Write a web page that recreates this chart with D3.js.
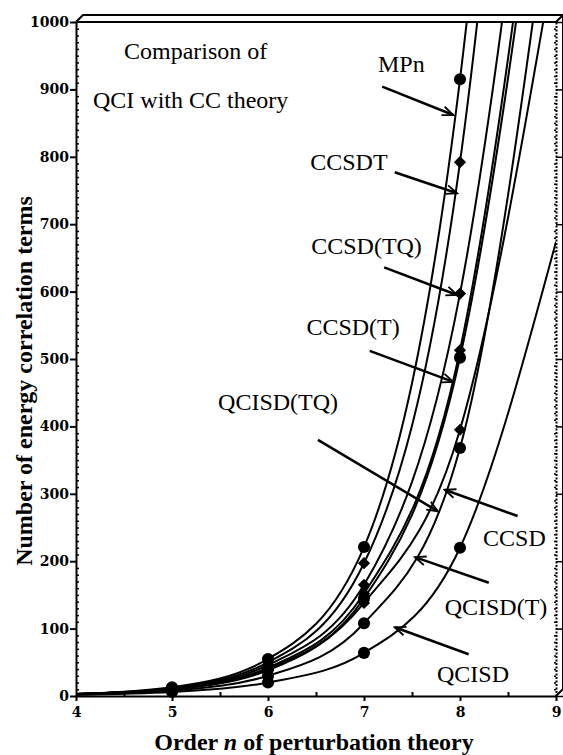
<!DOCTYPE html>
<html>
<head>
<meta charset="utf-8">
<script src="https://cdn.jsdelivr.net/npm/d3@7"></script>
<style>
body { margin: 0; background: #fff; }
svg text { fill: #000; }
</style>
</head>
<body>
<svg id="chart"></svg>
<script>
// order n of perturbation theory (n = 9 values estimated from where the curves leave the frame)
const orders = [4, 5, 6, 7, 8, 9];
const markerOrders = [5, 6, 7, 8];

const mpnTerms = [3, 13, 55, 221, 915, 2550];
const ccsdtTerms = [3, 12, 50, 197, 792, 2280];
const ccsdTQTerms = [3, 11, 46, 165, 597, 1655];
const ccsdTTerms = [3, 10, 42, 152, 513, 1495];
const ccsdTerms = [3, 10, 40, 145, 502, 1440];
const qcisdTQTerms = [3, 10, 38, 138, 395, 1110];
const qcisdTTerms = [2, 8, 30, 108, 368, 1255];
const qcisdTerms = [2, 6, 20, 64, 220, 674];

const seriesNames = ["MPn", "CCSDT", "CCSD(TQ)", "CCSD(T)", "CCSD", "QCISD(TQ)", "QCISD(T)", "QCISD"];
const seriesValues = [mpnTerms, ccsdtTerms, ccsdTQTerms, ccsdTTerms, ccsdTerms, qcisdTQTerms, qcisdTTerms, qcisdTerms];
const seriesSymbols = ["circle", "diamond", "diamond", "diamond", "circle", "diamond", "circle", "circle"];

const xTicks = [4, 5, 6, 7, 8, 9];
const xMinorTicks = [4.5, 5.5, 6.5, 7.5, 8.5];
const yTicks = d3.range(0, 1001, 100);
const yMinorTicks = d3.range(0, 1001, 10).filter(v => v % 100 !== 0);

// label text, anchor [n, terms]; arrow from [n, terms] to [n, terms]
const labelTexts = ["MPn", "CCSDT", "CCSD(TQ)", "CCSD(T)", "QCISD(TQ)", "CCSD", "QCISD(T)", "QCISD"];
const labelAnchors = [[7.146, 926], [6.44, 780], [6.45, 656], [6.40, 536], [5.48, 425], [8.24, 223], [7.84, 120], [7.76, 21]];
const arrowStarts = [[7.19, 904], [7.32, 777], [7.21, 636], [7.06, 512], [6.52, 380], [8.60, 267], [8.30, 168], [8.09, 62]];
const arrowEnds = [[7.93, 862], [7.97, 746], [7.97, 595], [7.93, 466], [7.77, 274], [7.84, 306], [7.53, 206], [7.32, 102]];

const titleLines = ["Comparison of", "QCI with CC theory"];
const titleAnchors = [[4.5, 945], [4.177, 872]];

const config = {
    width: 563,
    height: 755,
    margin: { top: 22, right: 7, bottom: 59, left: 76 },
    depth: 7
};
const serif = "'Liberation Serif', 'Times New Roman', serif";
const tickFont = "'DejaVu Serif', serif";

function renderChart() {
    const innerWidth = config.width - config.margin.left - config.margin.right;
    const innerHeight = config.height - config.margin.top - config.margin.bottom;

    const svg = d3.select("#chart")
        .attr("width", config.width)
        .attr("height", config.height);

    const x = d3.scaleLinear().domain([4, 9]).range([config.margin.left, config.margin.left + innerWidth]);
    const y = d3.scaleLinear().domain([0, 1000]).range([config.margin.top + innerHeight, config.margin.top]);

    const defs = svg.append("defs");
    defs.append("clipPath")
        .attr("id", "plot-clip")
        .append("rect")
        .attr("x", x(4))
        .attr("y", y(1000))
        .attr("width", x(9) - x(4))
        .attr("height", y(0) - y(1000));
    defs.append("marker")
        .attr("id", "arrowhead")
        .attr("viewBox", "-12 -6 14 12")
        .attr("refX", 0)
        .attr("refY", 0)
        .attr("orient", "auto")
        .attr("markerUnits", "userSpaceOnUse")
        .attr("markerWidth", 14)
        .attr("markerHeight", 12)
        .append("path")
        .attr("d", "M -11,-4.5 L 0,0 L -11,4.5")
        .attr("fill", "none")
        .attr("stroke", "#000")
        .attr("stroke-width", 1.8);

    // curves
    const line = d3.line()
        .x((d, i) => x(orders[i]))
        .y(d => y(d))
        .curve(d3.curveMonotoneX);

    const plot = svg.append("g").attr("clip-path", "url(#plot-clip)");
    plot.selectAll(".curve")
        .data(seriesValues)
        .join("path")
        .attr("class", "curve")
        .attr("d", line)
        .attr("fill", "none")
        .attr("stroke", "#000")
        .attr("stroke-width", 2);

    // markers at n = 5..8
    const markerData = [];
    seriesValues.forEach((vals, s) => {
        markerOrders.forEach(n => {
            markerData.push({ n: n, v: vals[orders.indexOf(n)], symbol: seriesSymbols[s] });
        });
    });
    const circleSym = d3.symbol().type(d3.symbolCircle).size(115);
    const diamondSym = d3.symbol().type(d3.symbolDiamond2).size(95);
    svg.append("g")
        .selectAll("path")
        .data(markerData)
        .join("path")
        .attr("transform", d => `translate(${x(d.n)},${y(d.v)})`)
        .attr("d", d => d.symbol === "circle" ? circleSym() : diamondSym())
        .attr("fill", "#000");

    // frame (3D box look)
    const dp = config.depth;
    const frame = svg.append("g")
        .attr("fill", "none")
        .attr("stroke", "#000")
        .attr("stroke-width", 2);
    frame.append("path")
        .attr("d", `M ${x(4)},${y(1000)} L ${x(4) + dp},${y(1000) - dp} L ${x(9) + dp},${y(1000) - dp} L ${x(9) + dp},${y(0) - dp} L ${x(9)},${y(0)}`);
    frame.append("path")
        .attr("d", `M ${x(4)},${y(1000)} L ${x(9)},${y(1000)} L ${x(9) + dp},${y(1000) - dp}`);

    // axes
    const left = svg.append("g")
        .attr("transform", `translate(${x(4)},0)`)
        .call(d3.axisLeft(y).tickValues(yTicks).tickSize(6).tickSizeOuter(0).tickPadding(1).tickFormat(d3.format("d")));
    left.select(".domain").attr("stroke-width", 2);
    left.selectAll(".tick line").attr("stroke-width", 2);
    left.selectAll(".tick text")
        .style("font-family", tickFont)
        .style("font-weight", "bold")
        .style("font-size", "14px");

    svg.append("g")
        .attr("transform", `translate(${x(4)},0)`)
        .call(d3.axisRight(y).tickValues(yMinorTicks).tickSize(3).tickSizeOuter(0).tickFormat(""))
        .call(g => g.select(".domain").remove())
        .selectAll(".tick line").attr("stroke-width", 1.5);

    const right = svg.append("g")
        .attr("transform", `translate(${x(9)},0)`)
        .call(d3.axisRight(y).tickValues(yTicks).tickSize(dp).tickSizeOuter(0).tickFormat(""));
    right.select(".domain").attr("stroke-width", 2).attr("stroke-dasharray", "2,1.5");
    right.selectAll(".tick line").attr("stroke-width", 1.5);
    svg.append("g")
        .attr("transform", `translate(${x(9)},0)`)
        .call(d3.axisLeft(y).tickValues(yMinorTicks).tickSize(2).tickSizeOuter(0).tickFormat(""))
        .call(g => g.select(".domain").remove())
        .selectAll(".tick line").attr("stroke-width", 1.5);

    const bottom = svg.append("g")
        .attr("transform", `translate(0,${y(0)})`)
        .call(d3.axisBottom(x).tickValues(xTicks).tickSize(5).tickSizeOuter(0).tickPadding(6).tickFormat(d3.format("d")));
    bottom.select(".domain").attr("stroke-width", 2);
    bottom.selectAll(".tick line").attr("stroke-width", 2);
    bottom.selectAll(".tick text")
        .style("font-family", tickFont)
        .style("font-weight", "bold")
        .style("font-size", "14px");
    svg.append("g")
        .attr("transform", `translate(0,${y(0)})`)
        .call(d3.axisTop(x).tickValues(xMinorTicks).tickSize(4).tickSizeOuter(0).tickFormat(""))
        .call(g => g.select(".domain").remove())
        .selectAll(".tick line").attr("stroke-width", 2);

    // axis titles
    const xTitle = svg.append("text")
        .attr("x", (x(4) + x(9)) / 2 - 2)
        .attr("y", 750)
        .attr("text-anchor", "middle")
        .style("font-family", serif)
        .style("font-weight", "bold")
        .style("font-size", "24px");
    xTitle.append("tspan").text("Order ");
    xTitle.append("tspan").style("font-style", "italic").text("n");
    xTitle.append("tspan").text(" of perturbation theory");

    svg.append("text")
        .attr("transform", `translate(32,${(y(0) + y(1000)) / 2 + 22}) rotate(-90)`)
        .attr("text-anchor", "middle")
        .style("font-family", serif)
        .style("font-weight", "bold")
        .style("font-size", "24px")
        .text("Number of energy correlation terms");

    // inset title
    svg.append("g")
        .selectAll("text")
        .data(titleLines)
        .join("text")
        .attr("x", (d, i) => x(titleAnchors[i][0]))
        .attr("y", (d, i) => y(titleAnchors[i][1]))
        .style("font-family", serif)
        .style("font-size", "24px")
        .text(d => d);

    // method labels with arrows
    svg.append("g")
        .selectAll("text")
        .data(labelTexts)
        .join("text")
        .attr("x", (d, i) => x(labelAnchors[i][0]))
        .attr("y", (d, i) => y(labelAnchors[i][1]))
        .style("font-family", serif)
        .style("font-size", "24px")
        .text(d => d);

    svg.append("g")
        .selectAll("line")
        .data(arrowStarts)
        .join("line")
        .attr("x1", d => x(d[0]))
        .attr("y1", d => y(d[1]))
        .attr("x2", (d, i) => x(arrowEnds[i][0]))
        .attr("y2", (d, i) => y(arrowEnds[i][1]))
        .attr("stroke", "#000")
        .attr("stroke-width", 2.5)
        .attr("marker-end", "url(#arrowhead)");
}

renderChart();
</script>
</body>
</html>
